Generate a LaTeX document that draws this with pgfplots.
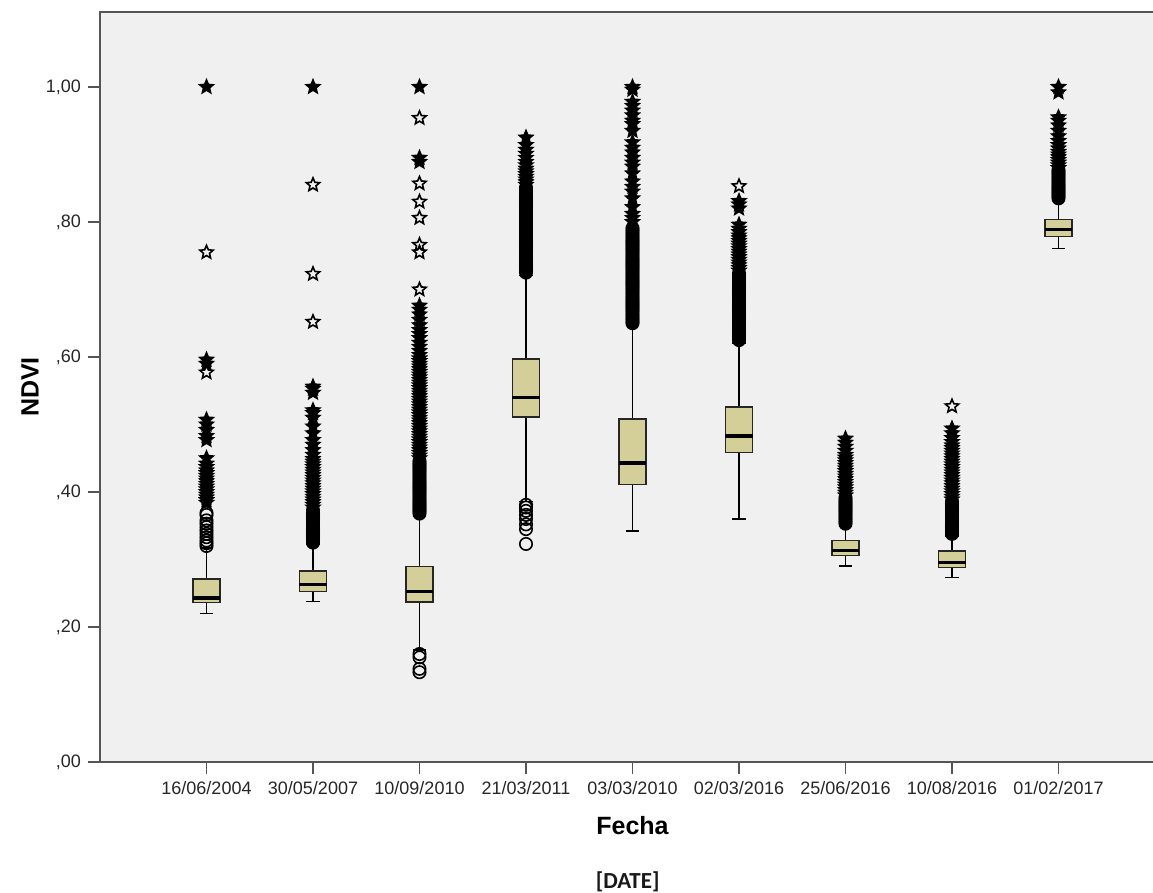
\documentclass[border=0pt]{standalone}
\usepackage{fontspec}
\setmainfont{Liberation Sans}
\newfontfamily\calibri{Carlito}
\usepackage{pgfplots}
\pgfplotsset{compat=1.18}
\usepgfplotslibrary{statistics}
\definecolor{boxfill}{RGB}{212,207,152}
\definecolor{bg}{RGB}{240,240,240}
\definecolor{axgray}{RGB}{85,85,85}
\newcommand\starpath{%
  \pgfpathmoveto{\pgfpointpolar{90}{\pgfplotmarksize}}%
  \pgfpathlineto{\pgfpointpolar{126}{0.45\pgfplotmarksize}}%
  \pgfpathlineto{\pgfpointpolar{162}{\pgfplotmarksize}}%
  \pgfpathlineto{\pgfpointpolar{198}{0.45\pgfplotmarksize}}%
  \pgfpathlineto{\pgfpointpolar{234}{\pgfplotmarksize}}%
  \pgfpathlineto{\pgfpointpolar{270}{0.45\pgfplotmarksize}}%
  \pgfpathlineto{\pgfpointpolar{306}{\pgfplotmarksize}}%
  \pgfpathlineto{\pgfpointpolar{342}{0.45\pgfplotmarksize}}%
  \pgfpathlineto{\pgfpointpolar{18}{\pgfplotmarksize}}%
  \pgfpathlineto{\pgfpointpolar{54}{0.45\pgfplotmarksize}}%
  \pgfpathclose}
\pgfdeclareplotmark{ostar}{\starpath\pgfusepathqstroke}
\pgfdeclareplotmark{fstar}{\starpath\pgfusepathqfillstroke}
\pgfplotsset{
  boxplot/draw direction=y,
  boxplot/every box/.style={draw=black!85, fill=boxfill, line width=0.6pt},
  boxplot/every median/.style={draw=black, line width=1.6pt},
  boxplot/every whisker/.style={draw=black, line width=0.75pt},
}
\begin{document}
\begin{tikzpicture}[x=1pt,y=1pt]
\useasboundingbox (0,0) rectangle (576.5,446.5);
\begin{axis}[
  at={(50pt,65.5pt)}, anchor=south west,
  scale only axis, width=532.5pt, height=375pt,
  xmin=0, xmax=10, ymin=0, ymax=1.1111,
  axis background/.style={fill=bg},
  axis line style={axgray, line width=0.75pt},
  tick style={axgray, line width=0.75pt},
  xtick pos=bottom, ytick pos=left, tick align=outside, major tick length=6pt,
  xtick={1,2,3,4,5,6,7,8,9},
  xticklabels={16/06/2004,30/05/2007,10/09/2010,21/03/2011,03/03/2010,02/03/2016,25/06/2016,10/08/2016,01/02/2017},
  ytick={0,0.2,0.4,0.6,0.8,1},
  yticklabels={{,00},{,20},{,40},{,60},{,80},{1,00}},
  ticklabel style={font=\fontsize{9}{10}\selectfont, text=black!85},
  label style={font=\bfseries\fontsize{12.5}{14}\selectfont},
  xlabel={Fecha}, ylabel={NDVI},
  xlabel style={at={(axis description cs:0.5,-0.0853)}, anchor=center},
  ylabel style={at={(axis description cs:-0.0657,0.5)}, anchor=center},
  clip=false,
]
\addplot[boxplot prepared={draw position=1, lower whisker=0.220, lower quartile=0.236, median=0.243, upper quartile=0.271, upper whisker=0.317, box extend=0.254, whisker extend=0.13}] coordinates {};
\addplot[boxplot prepared={draw position=2, lower whisker=0.238, lower quartile=0.253, median=0.263, upper quartile=0.283, upper whisker=0.322, box extend=0.254, whisker extend=0.13}] coordinates {};
\addplot[boxplot prepared={draw position=3, lower whisker=0.166, lower quartile=0.237, median=0.253, upper quartile=0.290, upper whisker=0.364, box extend=0.254, whisker extend=0.13}] coordinates {};
\addplot[boxplot prepared={draw position=4, lower whisker=0.386, lower quartile=0.511, median=0.540, upper quartile=0.597, upper whisker=0.721, box extend=0.254, whisker extend=0.13}] coordinates {};
\addplot[boxplot prepared={draw position=5, lower whisker=0.342, lower quartile=0.411, median=0.443, upper quartile=0.508, upper whisker=0.647, box extend=0.254, whisker extend=0.13}] coordinates {};
\addplot[boxplot prepared={draw position=6, lower whisker=0.360, lower quartile=0.459, median=0.483, upper quartile=0.526, upper whisker=0.621, box extend=0.254, whisker extend=0.13}] coordinates {};
\addplot[boxplot prepared={draw position=7, lower whisker=0.290, lower quartile=0.306, median=0.313, upper quartile=0.328, upper whisker=0.350, box extend=0.254, whisker extend=0.13}] coordinates {};
\addplot[boxplot prepared={draw position=8, lower whisker=0.273, lower quartile=0.288, median=0.295, upper quartile=0.3126, upper whisker=0.335, box extend=0.254, whisker extend=0.13}] coordinates {};
\addplot[boxplot prepared={draw position=9, lower whisker=0.761, lower quartile=0.779, median=0.789, upper quartile=0.804, upper whisker=0.832, box extend=0.254, whisker extend=0.13}] coordinates {};
% mild outliers, sparse (open circles)
\addplot[only marks, mark=o, mark size=3.1pt, mark options={draw=black, line width=0.8pt}] coordinates {
(1,0.320)(1,0.324)(1,0.328)(1,0.333)(1,0.338)(1,0.343)(1,0.348)(1,0.353)(1,0.358)(1,0.366)(1,0.369)
(3,0.133)(3,0.138)(3,0.155)(3,0.160)
(4,0.323)(4,0.345)(4,0.352)(4,0.360)(4,0.366)(4,0.372)(4,0.377)(4,0.381)
};
% mild outliers, dense (overlapping circles)
\addplot[only marks, mark=*, mark size=3.1pt, mark options={draw=black, fill=black, line width=0.8pt}] coordinates {
(2,0.325)(2,0.328)(2,0.331)(2,0.334)(2,0.337)(2,0.340)(2,0.343)(2,0.346)(2,0.349)(2,0.352)(2,0.355)(2,0.358)(2,0.361)(2,0.364)(2,0.367)(2,0.370)(2,0.373)
(3,0.368)(3,0.371)(3,0.374)(3,0.377)(3,0.380)(3,0.383)(3,0.386)(3,0.389)(3,0.392)(3,0.395)(3,0.398)(3,0.401)(3,0.404)(3,0.407)(3,0.410)(3,0.413)(3,0.416)(3,0.419)(3,0.422)(3,0.425)(3,0.428)(3,0.431)(3,0.434)(3,0.437)(3,0.440)(3,0.443)(3,0.446)
(4,0.725)(4,0.728)(4,0.731)(4,0.734)(4,0.737)(4,0.740)(4,0.743)(4,0.746)(4,0.749)(4,0.752)(4,0.755)(4,0.758)(4,0.761)(4,0.764)(4,0.767)(4,0.770)(4,0.773)(4,0.776)(4,0.779)(4,0.782)(4,0.785)(4,0.788)(4,0.791)(4,0.794)(4,0.797)(4,0.800)(4,0.803)(4,0.806)(4,0.809)(4,0.812)(4,0.815)(4,0.818)(4,0.821)(4,0.824)(4,0.827)(4,0.830)(4,0.833)(4,0.836)(4,0.839)(4,0.842)(4,0.845)(4,0.848)(4,0.851)
(5,0.650)(5,0.653)(5,0.656)(5,0.659)(5,0.662)(5,0.665)(5,0.668)(5,0.671)(5,0.674)(5,0.677)(5,0.680)(5,0.683)(5,0.686)(5,0.689)(5,0.692)(5,0.695)(5,0.698)(5,0.701)(5,0.704)(5,0.707)(5,0.710)(5,0.713)(5,0.716)(5,0.719)(5,0.722)(5,0.725)(5,0.728)(5,0.731)(5,0.734)(5,0.737)(5,0.740)(5,0.743)(5,0.746)(5,0.749)(5,0.752)(5,0.755)(5,0.758)(5,0.761)(5,0.764)(5,0.767)(5,0.770)(5,0.773)(5,0.776)(5,0.779)(5,0.782)(5,0.785)(5,0.788)(5,0.791)
(6,0.625)(6,0.628)(6,0.631)(6,0.634)(6,0.637)(6,0.640)(6,0.643)(6,0.646)(6,0.649)(6,0.652)(6,0.655)(6,0.658)(6,0.661)(6,0.664)(6,0.667)(6,0.670)(6,0.673)(6,0.676)(6,0.679)(6,0.682)(6,0.685)(6,0.688)(6,0.691)(6,0.694)(6,0.697)(6,0.700)(6,0.703)(6,0.706)(6,0.709)(6,0.712)(6,0.715)(6,0.718)(6,0.721)(6,0.724)
(7,0.353)(7,0.356)(7,0.359)(7,0.362)(7,0.365)(7,0.368)(7,0.371)(7,0.374)(7,0.377)(7,0.380)(7,0.383)(7,0.386)(7,0.389)(7,0.392)
(8,0.338)(8,0.341)(8,0.344)(8,0.347)(8,0.350)(8,0.353)(8,0.356)(8,0.359)(8,0.362)(8,0.365)(8,0.368)(8,0.371)(8,0.374)(8,0.377)(8,0.380)(8,0.383)(8,0.386)
(9,0.835)(9,0.838)(9,0.841)(9,0.844)(9,0.847)(9,0.850)(9,0.853)(9,0.856)(9,0.859)(9,0.862)(9,0.865)(9,0.868)(9,0.871)(9,0.874)(9,0.877)
};
% extreme outliers, sparse (open stars)
\addplot[only marks, mark=ostar, mark size=3.5pt, mark options={draw=black, line width=0.8pt}] coordinates {
(1,0.577)(1,0.755)
(2,0.652)(2,0.723)(2,0.855)
(3,0.700)(3,0.755)(3,0.766)(3,0.806)(3,0.830)(3,0.857)(3,0.954)
(6,0.853)
(8,0.527)
};
% extreme outliers, overlapping (stars)
\addplot[only marks, mark=fstar, mark size=3.5pt, mark options={draw=black, fill=black, line width=0.8pt}] coordinates {
(1,0.384)(1,0.388)(1,0.392)(1,0.396)(1,0.400)(1,0.404)(1,0.408)(1,0.412)(1,0.416)(1,0.420)(1,0.424)(1,0.428)(1,0.432)(1,0.437)(1,0.442)(1,0.450)(1,0.477)(1,0.483)(1,0.492)(1,0.500)(1,0.507)(1,0.590)(1,0.596)(1,1.000)
(2,0.377)(2,0.381)(2,0.385)(2,0.389)(2,0.393)(2,0.397)(2,0.401)(2,0.405)(2,0.409)(2,0.413)(2,0.417)(2,0.421)(2,0.425)(2,0.429)(2,0.433)(2,0.437)(2,0.441)(2,0.445)(2,0.449)(2,0.455)(2,0.462)(2,0.470)(2,0.477)(2,0.487)(2,0.497)(2,0.510)(2,0.517)(2,0.521)(2,0.547)(2,0.553)(2,0.556)(2,1.000)
(3,0.450)(3,0.454)(3,0.458)(3,0.462)(3,0.466)(3,0.470)(3,0.474)(3,0.478)(3,0.482)(3,0.486)(3,0.490)(3,0.494)(3,0.498)(3,0.502)(3,0.506)(3,0.510)(3,0.514)(3,0.518)(3,0.522)(3,0.526)(3,0.530)(3,0.534)(3,0.538)(3,0.542)(3,0.546)(3,0.550)(3,0.554)(3,0.558)(3,0.562)(3,0.566)(3,0.570)(3,0.574)(3,0.578)(3,0.582)(3,0.586)(3,0.590)(3,0.594)(3,0.598)(3,0.603)(3,0.609)(3,0.615)(3,0.621)(3,0.628)(3,0.634)(3,0.640)(3,0.647)(3,0.655)(3,0.663)(3,0.670)(3,0.676)(3,0.889)(3,0.895)(3,1.000)
(4,0.855)(4,0.859)(4,0.863)(4,0.867)(4,0.871)(4,0.875)(4,0.879)(4,0.884)(4,0.889)(4,0.895)(4,0.901)(4,0.907)(4,0.914)(4,0.925)
(5,0.800)(5,0.806)(5,0.812)(5,0.822)(5,0.835)(5,0.845)(5,0.852)(5,0.860)(5,0.872)(5,0.882)(5,0.888)(5,0.895)(5,0.903)(5,0.910)(5,0.918)(5,0.935)(5,0.945)(5,0.950)(5,0.958)(5,0.965)(5,0.972)(5,0.978)(5,0.996)(5,1.000)
(6,0.728)(6,0.732)(6,0.736)(6,0.740)(6,0.744)(6,0.748)(6,0.752)(6,0.756)(6,0.760)(6,0.764)(6,0.768)(6,0.772)(6,0.776)(6,0.780)(6,0.785)(6,0.790)(6,0.796)(6,0.820)(6,0.826)(6,0.831)
(7,0.395)(7,0.399)(7,0.403)(7,0.407)(7,0.411)(7,0.415)(7,0.419)(7,0.423)(7,0.427)(7,0.431)(7,0.435)(7,0.439)(7,0.443)(7,0.447)(7,0.451)(7,0.455)(7,0.461)(7,0.467)(7,0.473)(7,0.479)
(8,0.389)(8,0.393)(8,0.397)(8,0.401)(8,0.405)(8,0.409)(8,0.413)(8,0.417)(8,0.421)(8,0.425)(8,0.429)(8,0.433)(8,0.437)(8,0.441)(8,0.445)(8,0.449)(8,0.453)(8,0.457)(8,0.461)(8,0.465)(8,0.469)(8,0.474)(8,0.480)(8,0.487)(8,0.494)
(9,0.880)(9,0.884)(9,0.888)(9,0.892)(9,0.896)(9,0.900)(9,0.904)(9,0.909)(9,0.914)(9,0.920)(9,0.927)(9,0.935)(9,0.943)(9,0.950)(9,0.955)(9,0.992)(9,1.000)
};
\node[font=\calibri\bfseries\fontsize{11.5}{13}\selectfont, text=black!90] at (axis description cs:0.4955,-0.16) {[DATE]};
\end{axis}
\end{tikzpicture}
\end{document}
